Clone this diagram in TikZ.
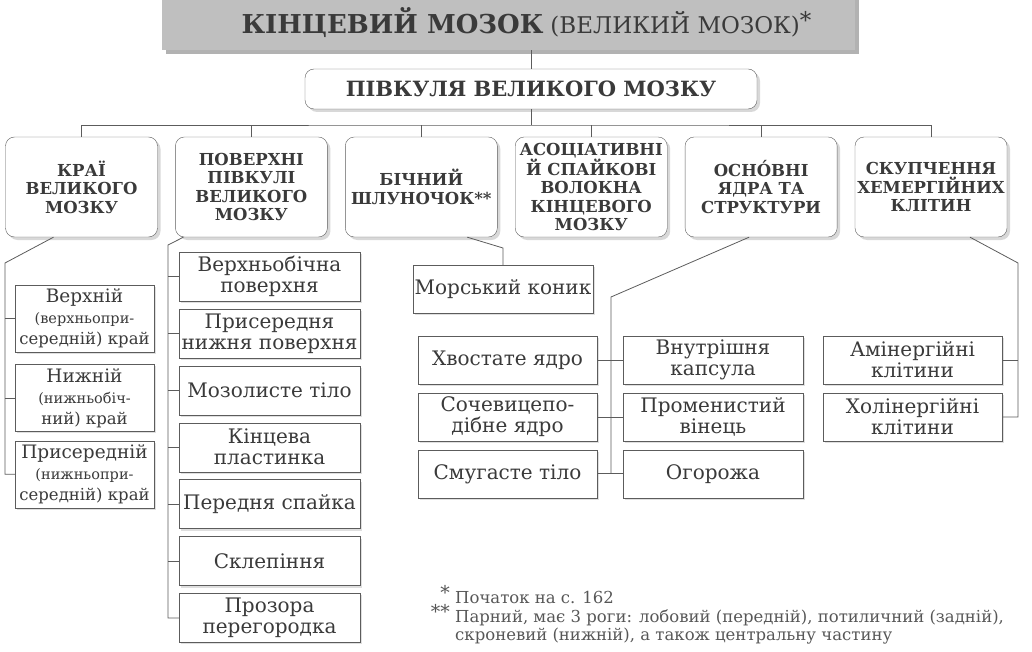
\documentclass[tikz,border=0pt]{standalone}
\usepackage{fontspec}
\setmainfont{DejaVu Serif}
\usetikzlibrary{positioning, shadows}
\definecolor{ink}{HTML}{3A3A3A}
\definecolor{rule}{HTML}{5C5C5C}
\tikzset{
every node/.style={text=ink}, % dark grey print
link/.style={draw=rule, line width=0.8pt}, % the tree lines
titlebox/.style={fill=gray!50, minimum width=693pt, minimum height=54pt, drop shadow={shadow xshift=4pt, shadow yshift=-4pt, fill=black!60}},
hemibox/.style={draw=rule, fill=white, rounded corners=9pt, minimum width=452pt, minimum height=40pt, font=\bfseries\fontsize{21}{24}\selectfont, drop shadow={shadow xshift=3pt, shadow yshift=-3pt, fill=black!30}},
headbox/.style={draw=rule, fill=white, rounded corners=9pt, minimum width=152pt, minimum height=100pt, inner sep=1pt, align=center, font=\bfseries\fontsize{16.5}{18.5}\selectfont, drop shadow={shadow xshift=3pt, shadow yshift=-3pt, fill=black!30}},
leafbox/.style={draw=rule, fill=white, inner sep=1pt, align=center, minimum height=48pt, font=\fontsize{20}{21}\selectfont, drop shadow={shadow xshift=2pt, shadow yshift=-2pt, fill=black!25}},
note/.style={inner sep=0pt, font=\fontsize{16.5}{18}\selectfont, text=ink!85},
}

\begin{document}
\begin{tikzpicture}[x=1pt, y=-1pt]
    \useasboundingbox (0,0) rectangle (1032,652);
    % head of the scheme
    \node[titlebox] (tm) at (508.5,23) {\hspace*{36pt}{\bfseries\fontsize{26}{30}\selectfont КІНЦЕВИЙ МОЗОК}\hspace{7pt}{\fontsize{23}{26}\selectfont (ВЕЛИКИЙ МОЗОК)\raisebox{5pt}{*}}};
    \node[hemibox] (pv) at (531,89) {ПІВКУЛЯ ВЕЛИКОГО МОЗКУ};
    % six groups
    \node[headbox] (kr) at (81.5,187) {КРАЇ\\ВЕЛИКОГО\\МОЗКУ};
    \node[headbox, right=17.5pt of kr] (pov) {ПОВЕРХНІ\\ПІВКУЛІ\\ВЕЛИКОГО\\МОЗКУ};
    \node[headbox, right=17.5pt of pov] (bsh) {БІЧНИЙ\\ШЛУНОЧОК**};
    \node[headbox, right=17.5pt of bsh] (asv) {АСОЦІАТИВНІ\\Й СПАЙКОВІ\\ВОЛОКНА\\КІНЦЕВОГО\\МОЗКУ};
    \node[headbox, right=17.5pt of asv] (osn) {ОСНО́ВНІ\\ЯДРА ТА\\СТРУКТУРИ};
    \node[headbox, right=17.5pt of osn] (skp) {СКУПЧЕННЯ\\ХЕМЕРГІЙНИХ\\КЛІТИН};
    % edges of the brain
    \node[leafbox, minimum width=139pt, minimum height=67pt] (kr1) at (84.5,318.5) {\fontsize{18.5}{19}\selectfont Верхній\\{\fontsize{14.5}{17}\selectfont(верхньопри-}\\{\fontsize{16.5}{18}\selectfont середній) край}};
    \node[leafbox, minimum width=139pt, minimum height=67pt, below=12pt of kr1] (kr2) {\fontsize{18.5}{19}\selectfont Нижній\\{\fontsize{14.5}{17}\selectfont(нижньобіч-}\\{\fontsize{16.5}{18}\selectfont ний) край}};
    \node[leafbox, minimum width=139pt, minimum height=67pt, below=9pt of kr2] (kr3) {\fontsize{18.5}{19}\selectfont Присередній\\{\fontsize{14.5}{17}\selectfont(нижньопри-}\\{\fontsize{16.5}{18}\selectfont середній) край}};
    % surfaces of the hemisphere
    \node[leafbox, minimum width=181pt, minimum height=49pt] (po1) at (269.5,276.5) {Верхньобічна\\поверхня};
    \node[leafbox, minimum width=181pt, minimum height=49pt, below=7.5pt of po1] (po2) {Присередня\\нижня поверхня};
    \node[leafbox, minimum width=181pt, minimum height=49pt, below=7.5pt of po2] (po3) {Мозолисте тіло};
    \node[leafbox, minimum width=181pt, minimum height=49pt, below=7.5pt of po3] (po4) {Кінцева\\пластинка};
    \node[leafbox, minimum width=181pt, minimum height=49pt, below=7.5pt of po4] (po5) {Передня спайка};
    \node[leafbox, minimum width=181pt, minimum height=49pt, below=7.5pt of po5] (po6) {Склепіння};
    \node[leafbox, minimum width=181pt, minimum height=49pt, below=7.5pt of po6] (po7) {Прозора\\перегородка};
    % ventricle
    \node[leafbox, minimum width=180pt] (mk) at (503,289) {Морський коник};
    % basal nuclei
    \node[leafbox, minimum width=179pt] (ya1) at (507.5,360) {Хвостате ядро};
    \node[leafbox, minimum width=179pt, below=8.5pt of ya1] (ya2) {Сочевицепо-\\дібне ядро};
    \node[leafbox, minimum width=179pt, below=8.5pt of ya2] (ya3) {Смугасте тіло};
    \node[leafbox, minimum width=180pt] (st1) at (713,360) {Внутрішня\\капсула};
    \node[leafbox, minimum width=180pt, below=8.5pt of st1] (st2) {Променистий\\вінець};
    \node[leafbox, minimum width=180pt, below=8.5pt of st2] (st3) {Огорожа};
    % chemergic cells
    \node[leafbox, minimum width=179pt] (kl1) at (912.5,360) {Амінергійні\\клітини};
    \node[leafbox, minimum width=179pt, below=8.5pt of kl1] (kl2) {Холінергійні\\клітини};
    % footnotes
    \node[note, anchor=base west] (fn1) at (455,603) {Початок на с. 162};
    \node[note, anchor=base west] (fn2) at (455,622) {Парний, має 3 роги: лобовий (передній), потиличний (задній),};
    \node[note, anchor=base west] (fn3) at (455,640) {скроневий (нижній), а також центральну частину};
    \node[note, anchor=base east, font=\fontsize{19}{20}\selectfont] (sf1) at ([xshift=-5pt, yshift=4pt]fn1.base west) {*};
    \node[note, anchor=base east, font=\fontsize{19}{20}\selectfont] (sf2) at ([xshift=-5pt, yshift=4pt]fn2.base west) {**};
    % tree lines
    \coordinate (bus) at (531,125);
    \coordinate (krs) at (5,263);
    \coordinate (pos) at (168,245);
    \coordinate (bss) at (503,248);
    \coordinate (oss) at (611,297);
    \coordinate (sks) at (1018,263);
    \draw[link] (pv.north) -- (pv.north |- tm.south);
    \draw[link] (pv.south) -- (bus);
    \draw[link] (kr.north) |- (bus) -| (skp.north);
    \draw[link] (pov.north) -- (pov.north |- bus);
    \draw[link] (bsh.north) -- (bsh.north |- bus);
    \draw[link] (asv.north) -- (asv.north |- bus);
    \draw[link] (osn.north) -- (osn.north |- bus);
    \draw[link] ([xshift=-28pt]kr.south) -- (krs) |- (kr3.west);
    \draw[link] (krs |- kr1.west) -- (kr1.west);
    \draw[link] (krs |- kr2.west) -- (kr2.west);
    \draw[link] ([xshift=-68pt]pov.south) -- (pos) |- (po7.west);
    \draw[link] (pos |- po1.west) -- (po1.west);
    \draw[link] (pos |- po2.west) -- (po2.west);
    \draw[link] (pos |- po3.west) -- (po3.west);
    \draw[link] (pos |- po4.west) -- (po4.west);
    \draw[link] (pos |- po5.west) -- (po5.west);
    \draw[link] (pos |- po6.west) -- (po6.west);
    \draw[link] ([xshift=46pt]bsh.south) -- (bss) -- (mk.north);
    \draw[link] ([xshift=-12pt]osn.south) -- (oss) -- (oss |- ya3.east);
    \draw[link] (ya1.east) -- (st1.west);
    \draw[link] (ya2.east) -- (st2.west);
    \draw[link] (ya3.east) -- (st3.west);
    \draw[link] ([xshift=39pt]skp.south) -- (sks) |- (kl2.east);
    \draw[link] (sks |- kl1.east) -- (kl1.east);
\end{tikzpicture}
\end{document}
